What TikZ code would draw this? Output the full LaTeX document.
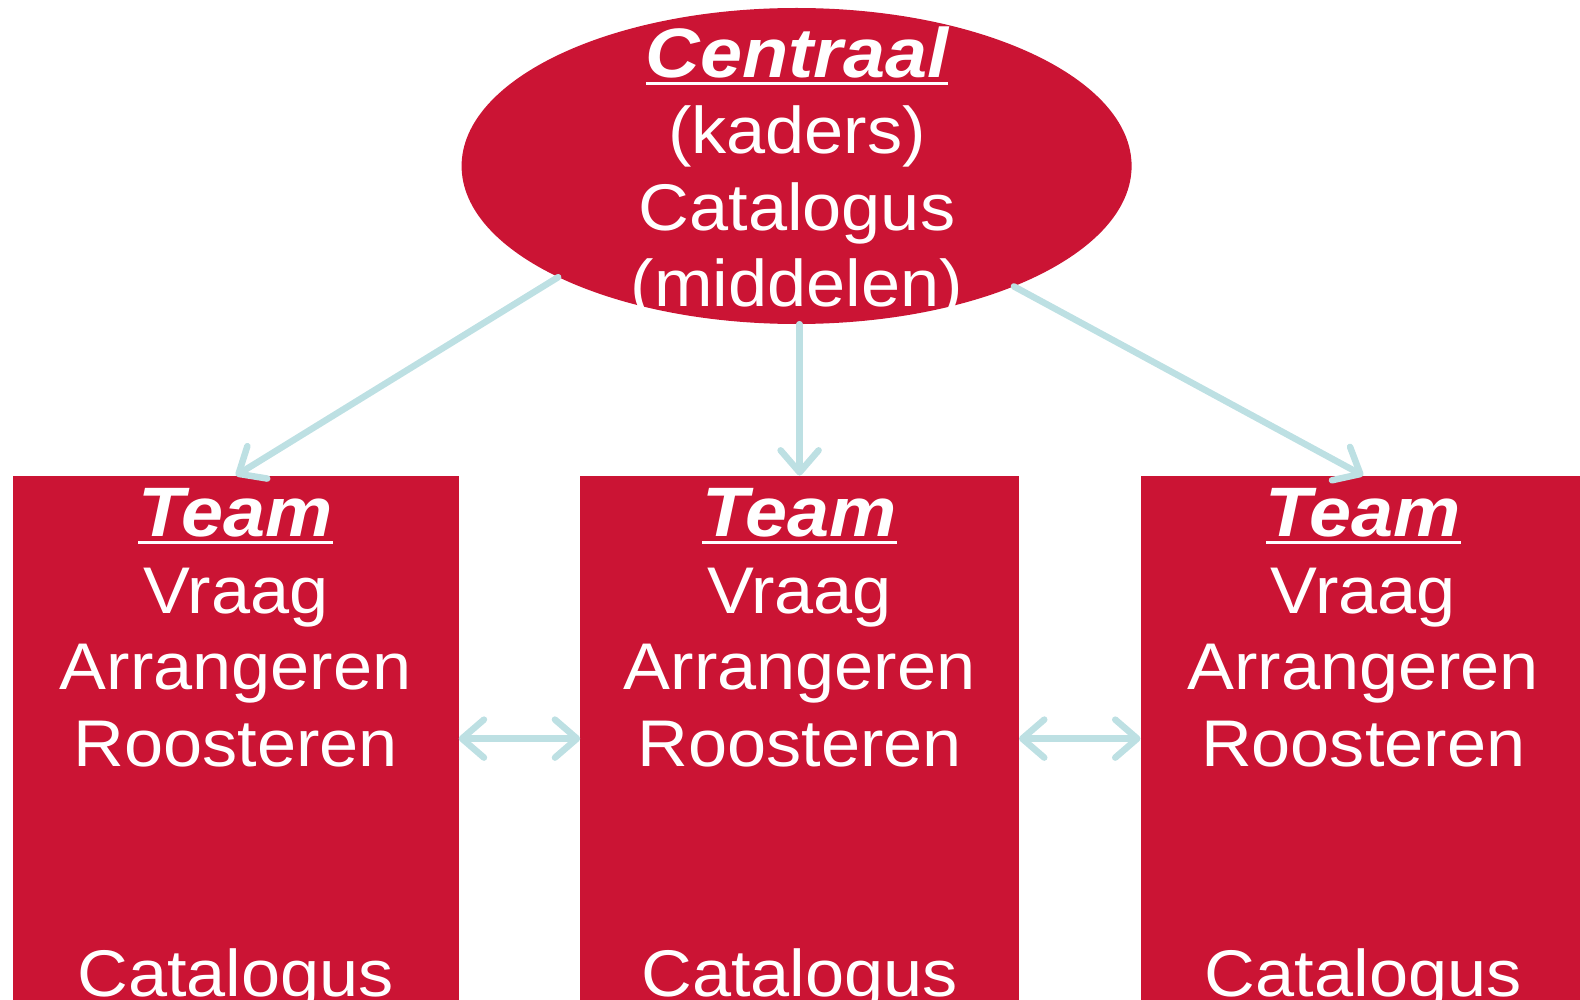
\documentclass[tikz,border=0pt]{standalone}
\usepackage{fontspec}
\setmainfont{Liberation Sans}[FakeStretch=1.065]
\newfontfamily\hdfont{Liberation Sans}[FakeStretch=1.08]
\usetikzlibrary{shapes.geometric,arrows.meta}
\definecolor{boxred}{RGB}{203,20,52}
\definecolor{linkblue}{RGB}{189,224,227}
\newcommand\hdline[1]{{\fontsize{70}{76.6}\hdfont\bfseries\itshape\setbox0\hbox{#1}\rlap{\smash{\raisebox{-8pt}{\rule{\wd0}{3.5pt}}}}\box0}}
\begin{document}
\begin{tikzpicture}[x=1pt,y=-1pt,
  redfill/.style={fill=boxred,draw=none,inner sep=0pt},
  teambox/.style={redfill,rectangle,anchor=north,minimum height=560pt},
  lbl/.style={text=white,align=center,anchor=base,inner sep=0pt,font=\fontsize{66}{76.6}\selectfont},
  barb/.tip={Straight Barb[length=22pt,width=38pt,round]},
  link/.style={draw=linkblue,line width=6.5pt,line cap=round,-barb},
  dlink/.style={draw=linkblue,line width=6.5pt,line cap=round,barb-barb}]
\useasboundingbox (0,0) rectangle (1580,1000);
\clip (0,0) rectangle (1580,1000);
\node[redfill,ellipse,minimum width=670pt,minimum height=316pt] (E) at (796.6,166) {};
\node[teambox,minimum width=445.4pt] (L) at (235.8,475.6) {};
\node[teambox,minimum width=438.4pt] (M) at (799.6,475.6) {};
\node[teambox,minimum width=445pt] (R) at (1363.2,475.6) {};
\coordinate (hy) at (0,738.6);
\draw[link] (E.205.7) -- (L.north);
\draw[link] (M.north |- E.south) -- (M.north);
\draw[link] (E.331.7) -- (R.north);
\draw[dlink] (L.east |- hy) -- (M.west |- hy);
\draw[dlink] (M.east |- hy) -- (R.west |- hy);
\node[lbl] (Et) at (797,307) {\hdline{Centraal}\\(kaders)\\Catalogus\\(middelen)};
\node[lbl] (Lt) at (235.8,996) {\hdline{Team}\\Vraag\\Arrangeren\\Roosteren\\ \\ \\Catalogus};
\node[lbl] (Mt) at (799.6,996) {\hdline{Team}\\Vraag\\Arrangeren\\Roosteren\\ \\ \\Catalogus};
\node[lbl] (Rt) at (1363.2,996) {\hdline{Team}\\Vraag\\Arrangeren\\Roosteren\\ \\ \\Catalogus};
\end{tikzpicture}
\end{document}
